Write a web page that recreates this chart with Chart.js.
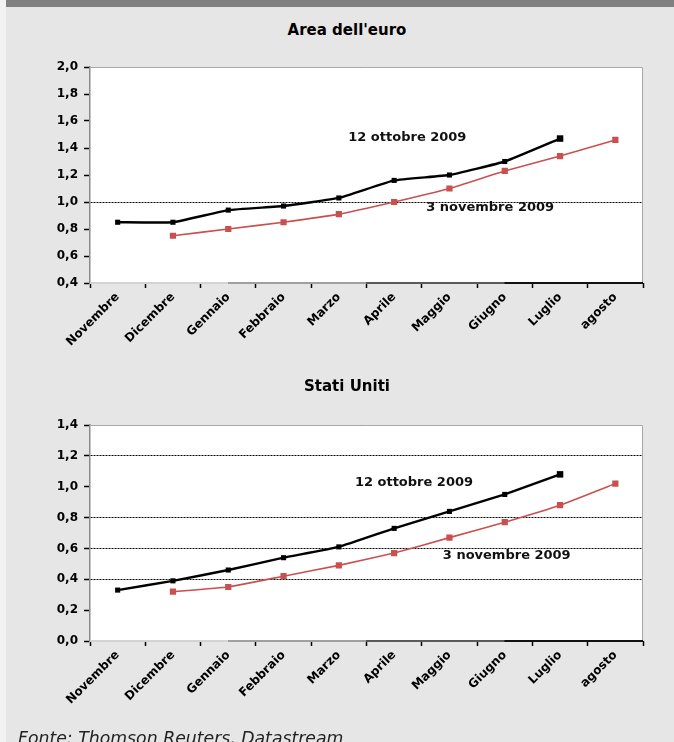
<!DOCTYPE html>
<html>
<head>
<meta charset="utf-8">
<script src="https://cdn.jsdelivr.net/npm/chart.js@4.4.1/dist/chart.umd.min.js"></script>
<style>
  html, body { margin: 0; padding: 0; background: #f2f2f2; }
  #page { position: relative; width: 674px; height: 742px; overflow: hidden; background: #f2f2f2; }
  #panel { position: absolute; left: 6px; top: 0; right: 0; bottom: 0; background: #e6e6e6; }
  #topbar { position: absolute; left: 6px; top: 0; right: 0; height: 7px; background: #808080; }
  .title { position: absolute; left: 227px; width: 240px; text-align: center; font: bold 15px "DejaVu Sans", sans-serif; color: #000; line-height: 18px; }
  .box { position: absolute; left: 0; width: 674px; }
  .source { position: absolute; left: 18px; top: 728px; font: italic 17.3px "DejaVu Sans", sans-serif; color: #222; line-height: 20px; white-space: nowrap; }
</style>
</head>
<body>
<div id="page">
  <div id="panel"></div>
  <div id="topbar"></div>
  <div class="title" style="top:21px">Area dell'euro</div>
  <div class="box" style="top:50px;height:330px"><canvas id="euro" width="674" height="330"></canvas></div>
  <div class="title" style="top:377px">Stati Uniti</div>
  <div class="box" style="top:405px;height:337px"><canvas id="us" width="674" height="337"></canvas></div>
  <div class="source">Fonte: Thomson Reuters, Datastream</div>
</div>
<script>
const months = ['Novembre', 'Dicembre', 'Gennaio', 'Febbraio', 'Marzo', 'Aprile', 'Maggio', 'Giugno', 'Luglio', 'agosto'];

// Area dell'euro
const euroOct = [0.85, 0.85, 0.94, 0.97, 1.03, 1.16, 1.20, 1.30, 1.47, null];
const euroNov = [null, 0.75, 0.80, 0.85, 0.91, 1.00, 1.10, 1.23, 1.34, 1.46];
const euroRefLines = [1.0];

// Stati Uniti
const usOct = [0.33, 0.39, 0.46, 0.54, 0.61, 0.73, 0.84, 0.95, 1.08, null];
const usNov = [null, 0.32, 0.35, 0.42, 0.49, 0.57, 0.67, 0.77, 0.88, 1.02];
const usRefLines = [1.2, 0.8, 0.6, 0.4];

const seriesNames = ['12 ottobre 2009', '3 novembre 2009'];

const FONT = '"DejaVu Sans", sans-serif';

// white plot area, grey frame and the shaded bottom axis line
const plotFrame = {
  id: 'plotFrame',
  beforeDraw(chart) {
    const { ctx, chartArea: a } = chart;
    ctx.save();
    ctx.fillStyle = '#ffffff';
    ctx.fillRect(a.left, a.top, a.right - a.left, a.bottom - a.top);
    ctx.restore();
  },
  afterDraw(chart) {
    const { ctx, chartArea: a } = chart;
    ctx.save();
    ctx.strokeStyle = '#a8a8a8';
    ctx.lineWidth = 1;
    ctx.beginPath();
    ctx.moveTo(a.left, a.top + 0.5);
    ctx.lineTo(a.right - 0.5, a.top + 0.5);
    ctx.lineTo(a.right - 0.5, a.bottom);
    ctx.stroke();
    const g = ctx.createLinearGradient(a.left, 0, a.right, 0);
    ['#d4d4d4', '#a0a0a0', '#5a5a5a', '#111111'].forEach((c, i) => {
      g.addColorStop(i / 4, c);
      g.addColorStop((i + 1) / 4 - 0.001, c);
    });
    ctx.strokeStyle = g;
    ctx.lineWidth = 2;
    ctx.beginPath();
    ctx.moveTo(a.left, a.bottom);
    ctx.lineTo(a.right, a.bottom);
    ctx.stroke();
    ctx.restore();
  }
};

// series names written next to the lines, placed in data units
const lineLabels = {
  id: 'lineLabels',
  afterDatasetsDraw(chart, args, opts) {
    const { ctx, scales } = chart;
    ctx.save();
    ctx.font = 'bold 13px ' + FONT;
    ctx.fillStyle = '#111';
    ctx.textAlign = 'left';
    ctx.textBaseline = 'middle';
    opts.items.forEach(it => {
      ctx.fillText(it.text, scales.x.getPixelForValue(it.x), scales.y.getPixelForValue(it.y));
    });
    ctx.restore();
  }
};

function makeChart(id, oct, nov, yMin, yMax, refLines, labels, padTop, xHeight) {
  return new Chart(document.getElementById(id), {
    type: 'line',
    data: {
      labels: months,
      datasets: [{
        label: seriesNames[0],
        data: oct,
        borderColor: '#000',
        backgroundColor: '#000',
        borderWidth: 2.4,
        pointStyle: 'rect',
        pointBorderWidth: 0,
        pointRadius: ctx => ctx.dataIndex === 8 ? 4.6 : 3.6,
        tension: 0.1
      }, {
        label: seriesNames[1],
        data: nov,
        borderColor: '#c9504f',
        backgroundColor: '#c9504f',
        borderWidth: 1.6,
        pointStyle: 'rect',
        pointBorderWidth: 0,
        pointRadius: 4.4,
        tension: 0.1
      }]
    },
    options: {
      responsive: false,
      animation: false,
      layout: { padding: { left: 0, right: 31, top: padTop, bottom: 0 } },
      plugins: {
        legend: { display: false },
        tooltip: { enabled: false },
        lineLabels: { items: labels }
      },
      scales: {
        x: {
          offset: true,
          grid: { offset: true, drawOnChartArea: false, tickLength: 5, tickColor: '#000', tickWidth: 1.5 },
          border: { display: false },
          ticks: {
            minRotation: 45, maxRotation: 45, autoSkip: false,
            color: '#000', padding: 2,
            font: { family: FONT, size: 12, weight: 'bold' }
          },
          afterFit: s => { s.height = xHeight; }
        },
        y: {
          min: yMin, max: yMax,
          grid: {
            color: ctx => refLines.some(v => ctx.tick && Math.abs(v - ctx.tick.value) < 1e-6) ? '#000' : 'rgba(0,0,0,0)',
            lineWidth: 1,
            tickColor: '#000', tickLength: 6, tickWidth: 1.5
          },
          border: { color: '#8a8a8a', width: 1.5, dash: [2, 1] },
          ticks: {
            stepSize: 0.2, color: '#000', padding: 6,
            font: { family: FONT, size: 12, weight: 'bold' },
            callback: v => v.toFixed(1).replace('.', ',')
          },
          afterFit: s => { s.width = 90; }
        }
      }
    },
    plugins: [plotFrame, lineLabels]
  });
}

makeChart('euro', euroOct, euroNov, 0.4, 2.0, euroRefLines, [
  { text: seriesNames[0], x: 4.17, y: 1.48 },
  { text: seriesNames[1], x: 5.58, y: 0.955 }
], 17, 97);

makeChart('us', usOct, usNov, 0, 1.4, usRefLines, [
  { text: seriesNames[0], x: 4.29, y: 1.025 },
  { text: seriesNames[1], x: 5.88, y: 0.552 }
], 20, 101);
</script>
</body>
</html>
